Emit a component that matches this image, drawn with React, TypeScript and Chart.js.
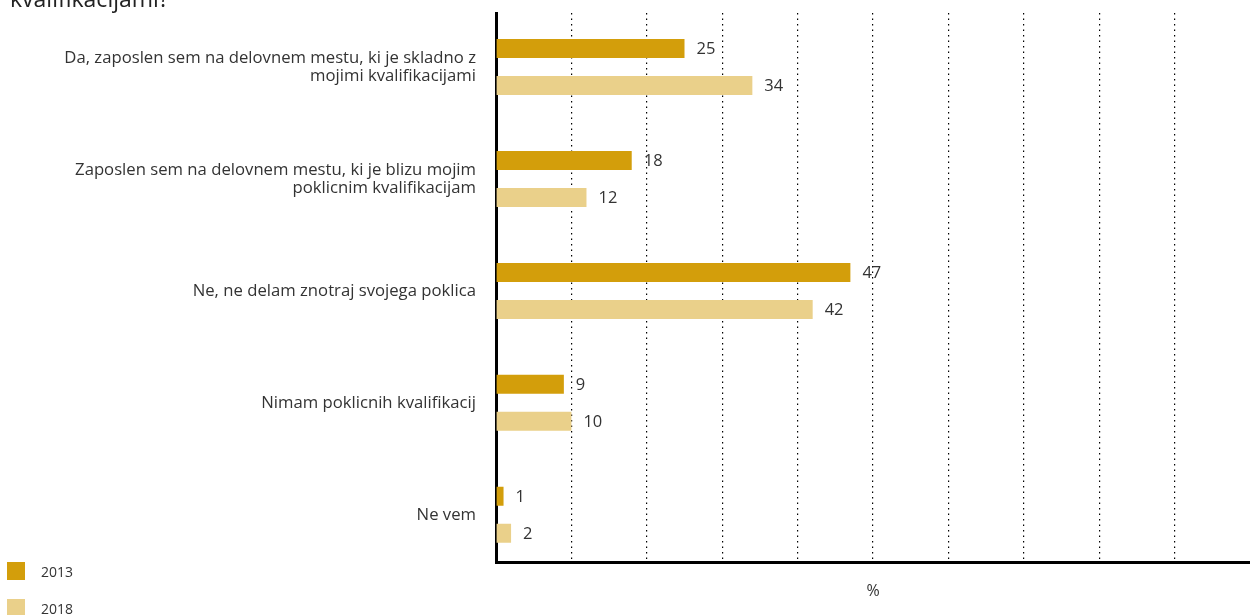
import React, { useEffect, useRef } from "react";
import { Chart, registerables } from "chart.js";

Chart.register(...registerables);

const categories: string[][] = [
  ["Da, zaposlen sem na delovnem mestu, ki je skladno z", "mojimi kvalifikacijami"],
  ["Zaposlen sem na delovnem mestu, ki je blizu mojim", "poklicnim kvalifikacijam"],
  ["Ne, ne delam znotraj svojega poklica"],
  ["Nimam poklicnih kvalifikacij"],
  ["Ne vem"],
];
const series2013: number[] = [25, 18, 47, 9, 1];
const series2018: number[] = [34, 12, 42, 10, 2];
const seriesNames: string[] = ["2013", "2018"];
const seriesColors: string[] = ["#D39E0B", "#EAD08A"];
const titleText = "kvalifikacijami?";
const axisTitle = "%";

const FONT = "'Open Sans', 'Noto Sans', sans-serif";
const TEXT = "#333333";

const valueLabels = {
  id: "valueLabels",
  afterDatasetsDraw(chart: any) {
    const ctx = chart.ctx;
    ctx.save();
    ctx.font = `16.5px ${FONT}`;
    ctx.fillStyle = TEXT;
    ctx.textAlign = "left";
    ctx.textBaseline = "middle";
    chart.data.datasets.forEach((ds: any, di: number) => {
      const meta = chart.getDatasetMeta(di);
      meta.data.forEach((el: any, i: number) => {
        const v = ds.data[i].x;
        ctx.fillText(String(v), el.x + 12, el.y + 1);
      });
    });
    ctx.restore();
  },
};

export default function App() {
  const ref = useRef<HTMLCanvasElement | null>(null);
  useEffect(() => {
    if (!ref.current) return;
    const chart = new Chart(ref.current, {
      type: "bar",
      data: {
        datasets: [
          {
            label: seriesNames[0],
            data: categories.map((_, i) => ({ x: series2013[i], y: i })),
            backgroundColor: seriesColors[0],
            categoryPercentage: 0.6607,
            barPercentage: 0.5135,
          },
          {
            label: seriesNames[1],
            data: categories.map((_, i) => ({ x: series2018[i], y: i })),
            backgroundColor: seriesColors[1],
            categoryPercentage: 0.6607,
            barPercentage: 0.5135,
          },
        ] as any,
      },
      options: {
        indexAxis: "y",
        animation: false,
        responsive: true,
        maintainAspectRatio: false,
        layout: { padding: { top: 13, right: 0, left: 0, bottom: 0 } },
        plugins: {
          legend: { display: false },
          tooltip: { enabled: false },
          title: { display: false },
        },
        scales: {
          x: {
            type: "linear",
            min: 0,
            max: 100,
            z: 1,
            ticks: { display: false, stepSize: 10 },
            grid: {
              drawTicks: false,
              color: (c: any) => (c.tick && c.tick.value === 100 ? "rgba(0,0,0,0)" : "#000000"),
              lineWidth: 1.2,
            },
            border: { display: true, color: "#000000", width: 3, dash: [1.5, 4] },
            title: {
              display: true,
              text: axisTitle,
              color: TEXT,
              font: { family: FONT, size: 16, lineHeight: 1.2 },
              padding: { top: 19, bottom: 14 },
            },
            afterFit: (scale: any) => {
              scale.paddingLeft = 0;
              scale.paddingRight = 0;
            },
          },
          y: {
            type: "linear",
            reverse: true,
            offset: false,
            min: -0.482,
            max: 4.4286,
            z: 1,
            afterBuildTicks: (scale: any) => {
              scale.ticks = categories.map((_, i) => ({ value: i }));
            },
            afterFit: (scale: any) => {
              scale.width = 496;
              scale.paddingTop = 0;
              scale.paddingBottom = 0;
            },
            ticks: {
              autoSkip: false,
              padding: 20,
              color: TEXT,
              font: { family: FONT, size: 16.7, lineHeight: 1.1 },
              callback: (v: any) => categories[Number(v)] ?? "",
            },
            grid: { display: false, drawTicks: false, offset: false },
            border: { display: true, color: "#000000", width: 3 },
          },
        },
      } as any,
      plugins: [valueLabels],
    });
    return () => chart.destroy();
  }, []);

  return (
    <div style={{ position: "fixed", left: 0, top: 0, width: 1250, height: 615, overflow: "hidden", background: "#fff", fontFamily: FONT }}>
      <div style={{ position: "absolute", left: 0, top: 0, width: 1250, height: 615 }}>
        <canvas ref={ref} />
      </div>
      <div style={{ position: "absolute", left: 10, top: -17, fontSize: 23, lineHeight: "30px", color: "#222", whiteSpace: "nowrap" }}>
        {titleText}
      </div>
      {seriesNames.map((n, i) => (
        <div key={n} style={{ position: "absolute", left: 7, top: 562 + i * 37, height: 18, display: "flex", alignItems: "center" }}>
          <div style={{ width: 18, height: 18, background: seriesColors[i] }} />
          <span style={{ marginLeft: 16, fontSize: 14, color: TEXT }}>{n}</span>
        </div>
      ))}
    </div>
  );
}
